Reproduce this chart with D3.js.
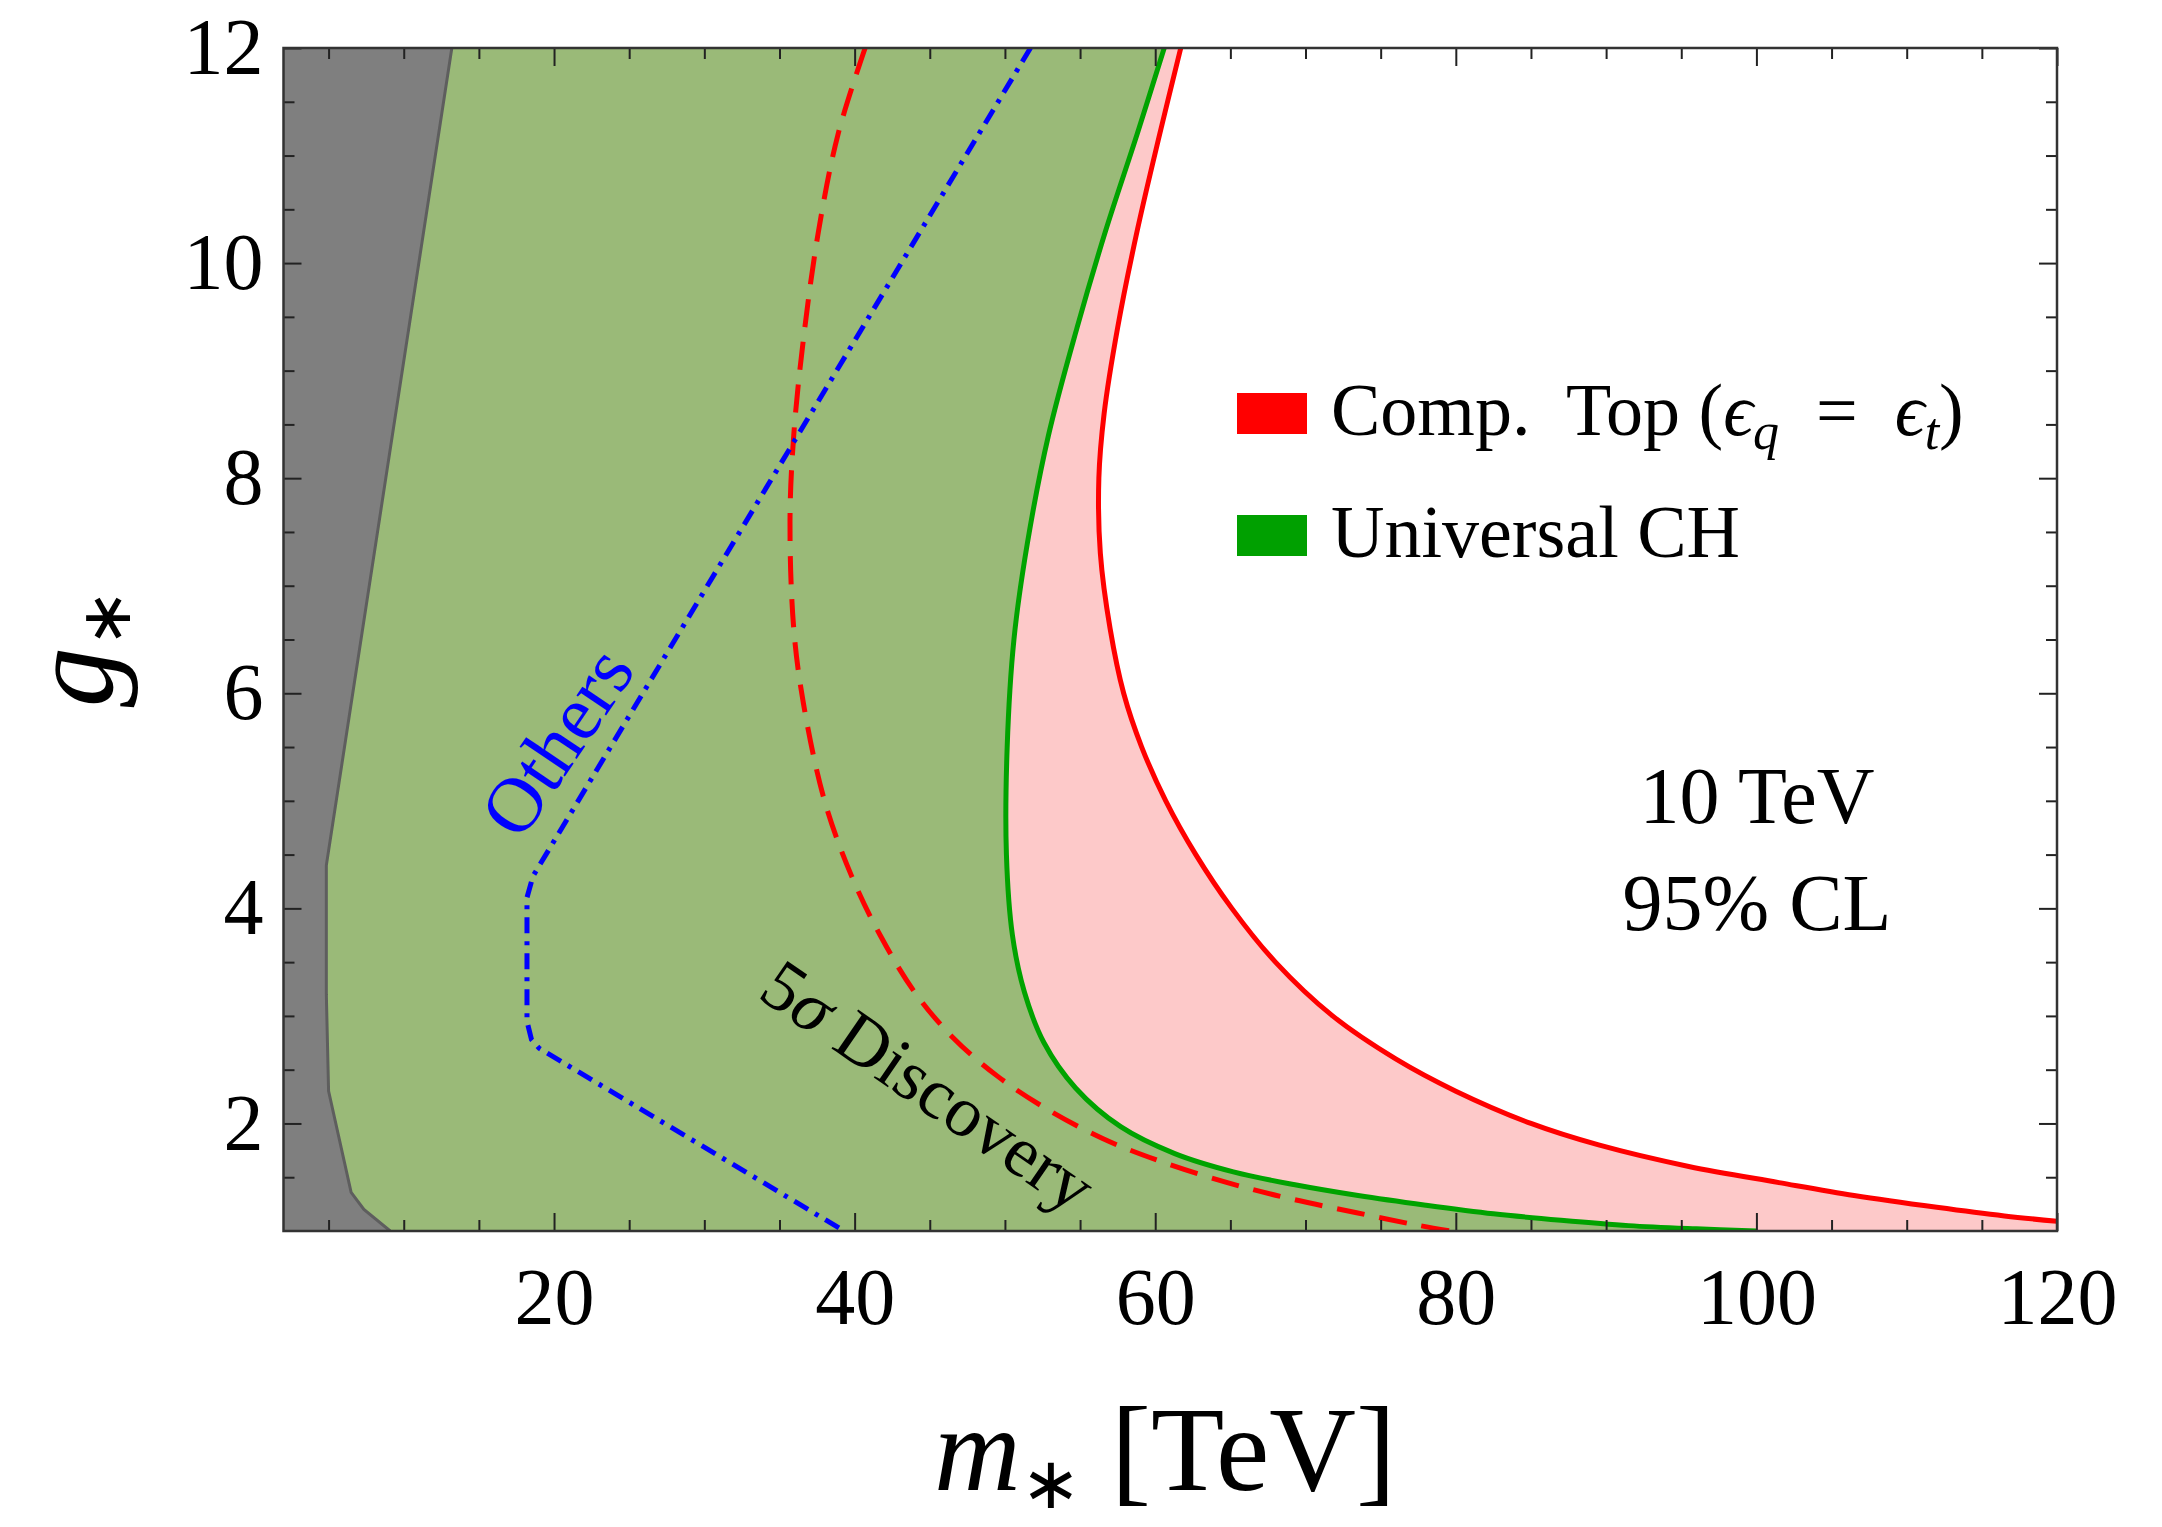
<!DOCTYPE html>
<html>
<head>
<meta charset="utf-8">
<script src="https://cdn.jsdelivr.net/npm/d3@7"></script>
<style>
  body { margin: 0; background: #fff; }
  svg text { font-family: "Liberation Serif", "DejaVu Serif", serif; fill: #000; }
</style>
</head>
<body>
<div id="chart"></div>
<script>
// [m_*, g_*] pairs, from the top edge down
const grayEdge = [[13.2,12],[4.85,4.4],[4.85,3.2],[5.0,2.3],[6.5,1.36],[7.35,1.2],[9.1,1.0]];
const greenEdge = [[60.6,12],[58.8,11.2],[56.7,10.3],[54.8,9.4],[52.9,8.4],[51.5,7.4],[50.6,6.5],
  [50.15,5.5],[50.1,4.5],[50.5,3.75],[51.3,3.22],[52.6,2.75],[54.7,2.33],[57.7,1.97],[61.3,1.72],
  [65.2,1.55],[69.3,1.43],[73.5,1.33],[78.0,1.24],[82.5,1.16],[87,1.1],[91.5,1.05],[96,1.02],[100,1.0]];
const redEdge = [[61.7,12],[60.3,11.2],[58.8,10.3],[57.5,9.4],[56.6,8.6],[56.25,8.0],[56.35,7.3],[57.0,6.6],
  [57.9,6.0],[59.1,5.5],[60.7,5.0],[62.7,4.5],[65.1,4.0],[68.0,3.5],[71.8,3.0],[76.0,2.6],[80.0,2.3],
  [85.0,2.0],[89.5,1.8],[95.5,1.6],[101.5,1.45],[106.5,1.33],[112,1.22],[116.5,1.14],[120,1.09]];
const redDashed = [[40.7,12],[38.9,11.2],[37.6,10.3],[36.6,9.3],[35.95,8.4],[35.7,7.6],[35.95,6.6],[36.6,5.9],
  [38.0,5.0],[39.8,4.3],[41.7,3.75],[44.0,3.22],[46.6,2.79],[49.5,2.44],[52.6,2.15],[56.5,1.86],[60.3,1.65],
  [64.8,1.45],[69.0,1.3],[73.4,1.17],[77.6,1.05],[81,0.97]];
const othersLine = [[51.7,12],[18.6,4.3],[18.2,4.1],[18.2,2.95],[18.5,2.78],[19.0,2.7],[39.3,1.0]];

const xMajor = [20,40,60,80,100,120];
const xMinor = [5,10,15,25,30,35,45,50,55,65,70,75,85,90,95,105,110,115];
const yMajor = [2,4,6,8,10,12];
const yMinor = [1.5,2.5,3,3.5,4.5,5,5.5,6.5,7,7.5,8.5,9,9.5,10.5,11,11.5];
const legendLabels = ["Comp. Top", "Universal CH"];
const noteLines = ["10 TeV", "95% CL"];

const col = { gray: "#7f7f7f", grayLine: "#5e5e5e", greenFill: "#9aba78", green: "#00a300",
  pink: "#fdc9c9", red: "#ff0000", blue: "#0000ff" };

const margin = { top: 48, right: 105, bottom: 296, left: 283.5 };
const W = 2162, H = 1527;
const width = W - margin.left - margin.right;
const height = H - margin.top - margin.bottom;

const svg = d3.select("#chart").append("svg")
  .attr("width", W).attr("height", H)
  .style("background", "#fff");

const g = svg.append("g").attr("transform", `translate(${margin.left},${margin.top})`);

const x = d3.scaleLinear().domain([2, 120]).range([0, width]);
const y = d3.scaleLinear().domain([1, 12]).range([height, 0]);

g.append("clipPath").attr("id", "plotclip")
  .append("rect").attr("width", width).attr("height", height);

const plot = g.append("g").attr("clip-path", "url(#plotclip)");

const smooth = d3.line().x(d => x(d[0])).y(d => y(d[1])).curve(d3.curveCatmullRom.alpha(0.5));
const straight = d3.line().x(d => x(d[0])).y(d => y(d[1]));

// edge curve then close along the given corners
function region(lineGen, edge, corners) {
  return lineGen(edge) + corners.map(c => `L${x(c[0])},${y(c[1])}`).join("") + "Z";
}

plot.append("path")
  .attr("d", region(smooth, redEdge, [[120,1],[2,1],[2,12]]))
  .attr("fill", col.pink);

plot.append("path")
  .attr("d", region(smooth, greenEdge, [[2,1],[2,12]]))
  .attr("fill", col.greenFill);

plot.append("path")
  .attr("d", region(straight, grayEdge, [[2,1],[2,12]]))
  .attr("fill", col.gray);

plot.append("path")
  .attr("d", straight(grayEdge))
  .attr("fill", "none").attr("stroke", col.grayLine).attr("stroke-width", 3);

plot.append("path")
  .attr("d", smooth(greenEdge))
  .attr("fill", "none").attr("stroke", col.green).attr("stroke-width", 5);

plot.append("path")
  .attr("d", smooth(redEdge))
  .attr("fill", "none").attr("stroke", col.red).attr("stroke-width", 5);

plot.append("path")
  .attr("d", smooth(redDashed))
  .attr("fill", "none").attr("stroke", col.red).attr("stroke-width", 5)
  .attr("stroke-dasharray", "28,15");

plot.append("path")
  .attr("d", straight(othersLine))
  .attr("fill", "none").attr("stroke", col.blue).attr("stroke-width", 5)
  .attr("stroke-dasharray", "16,8,4,8");

// frame ticks, all pointing inward
function styleAxis(sel) {
  sel.select(".domain").remove();
  sel.selectAll(".tick line").attr("stroke", "#222").attr("stroke-width", 2);
  sel.selectAll("text").attr("font-size", 80).attr("font-family", "Liberation Serif, serif").attr("fill", "#000");
  return sel;
}

g.append("g").attr("transform", `translate(0,${height})`)
  .call(d3.axisBottom(x).tickValues(xMajor).tickSize(-18).tickPadding(36).tickFormat(d3.format("d")))
  .call(styleAxis);
g.append("g").attr("transform", `translate(0,${height})`)
  .call(d3.axisBottom(x).tickValues(xMinor).tickSize(-11).tickFormat(""))
  .call(styleAxis);
g.append("g")
  .call(d3.axisTop(x).tickValues(xMajor).tickSize(-18).tickFormat(""))
  .call(styleAxis);
g.append("g")
  .call(d3.axisTop(x).tickValues(xMinor).tickSize(-11).tickFormat(""))
  .call(styleAxis);
g.append("g")
  .call(d3.axisLeft(y).tickValues(yMajor).tickSize(-18).tickPadding(20).tickFormat(d3.format("d")))
  .call(styleAxis);
g.append("g")
  .call(d3.axisLeft(y).tickValues(yMinor).tickSize(-11).tickFormat(""))
  .call(styleAxis);
g.append("g").attr("transform", `translate(${width},0)`)
  .call(d3.axisRight(y).tickValues(yMajor).tickSize(-18).tickFormat(""))
  .call(styleAxis);
g.append("g").attr("transform", `translate(${width},0)`)
  .call(d3.axisRight(y).tickValues(yMinor).tickSize(-11).tickFormat(""))
  .call(styleAxis);

g.append("rect")
  .attr("width", width).attr("height", height)
  .attr("fill", "none").attr("stroke", "#333").attr("stroke-width", 2.5);

// legend
const legend = svg.append("g").attr("transform", "translate(1237,393)");
const swCols = [col.red, "#00a000"];
legendLabels.forEach((lab, i) => {
  const row = legend.append("g").attr("transform", `translate(0,${i * 122})`);
  row.append("rect").attr("width", 70).attr("height", 41).attr("fill", swCols[i]);
  const t = row.append("text").attr("x", 94).attr("y", 42).attr("font-size", 74);
  if (i === 0) {
    t.append("tspan").text("Comp.\u00a0 Top (");
    t.append("tspan").attr("font-style", "italic").text("\u03f5");
    t.append("tspan").attr("font-style", "italic").attr("font-size", 52).attr("dy", 14).text("q");
    t.append("tspan").attr("dy", -14).text("\u2002=\u2002");
    t.append("tspan").attr("font-style", "italic").text("\u03f5");
    t.append("tspan").attr("font-style", "italic").attr("font-size", 52).attr("dy", 14).text("t");
    t.append("tspan").attr("dy", -14).text(")");
  } else {
    t.text(lab);
  }
});

// energy / CL note
noteLines.forEach((s, i) => {
  svg.append("text")
    .attr("x", 1757).attr("y", 823 + i * 107)
    .attr("text-anchor", "middle").attr("font-size", 80)
    .text(s);
});

// curve labels
svg.append("text")
  .attr("transform", "translate(556,741) rotate(-56)")
  .attr("text-anchor", "middle").attr("dy", "0.35em")
  .attr("font-size", 78).style("fill", col.blue)
  .text("Others");

const disc = svg.append("text")
  .attr("transform", "translate(929,1085) rotate(34.5)")
  .attr("text-anchor", "middle").attr("dy", "0.35em")
  .attr("font-size", 72);
disc.append("tspan").text("5");
disc.append("tspan").attr("font-style", "italic").text("\u03c3");
disc.append("tspan").text(" Discovery");

// axis titles
const xt = svg.append("text")
  .attr("x", 1165).attr("y", 1490)
  .attr("text-anchor", "middle").attr("font-size", 120);
xt.append("tspan").attr("font-style", "italic").text("m");
xt.append("tspan").attr("font-size", 72).attr("font-family", "DejaVu Sans, sans-serif")
  .attr("dy", 18).text("\u2217");
xt.append("tspan").attr("dy", -18).text(" [TeV]");

const yt = svg.append("text")
  .attr("transform", "translate(112,648) rotate(-90)")
  .attr("text-anchor", "middle").attr("font-size", 120);
yt.append("tspan").attr("font-style", "italic").text("g");
yt.append("tspan").attr("font-size", 70).attr("font-family", "DejaVu Sans, sans-serif")
  .attr("dy", 18).text("\u2217");
</script>
</body>
</html>
